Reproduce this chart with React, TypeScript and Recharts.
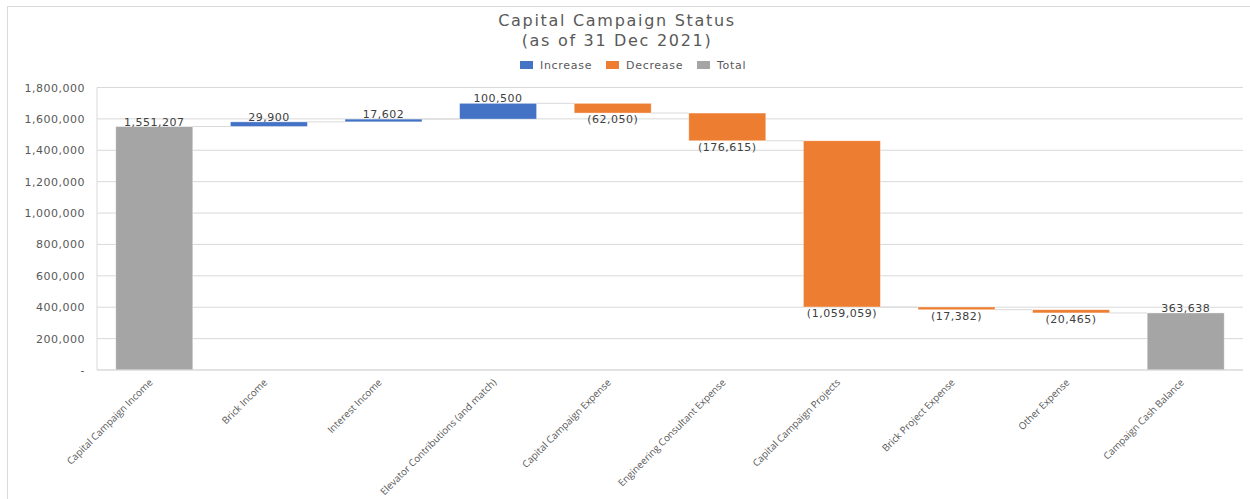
import React from "react";
import { BarChart, Bar, XAxis, YAxis, CartesianGrid, Cell, LabelList } from "recharts";

const categories = [
  "Capital Campaign Income",
  "Brick Income",
  "Interest Income",
  "Elevator Contributions (and match)",
  "Capital Campaign Expense",
  "Engineering Consultant Expense",
  "Capital Campaign Projects",
  "Brick Project Expense",
  "Other Expense",
  "Campaign Cash Balance",
];
const values = [1551207, 29900, 17602, 100500, -62050, -176615, -1059059, -17382, -20465, 363638];
const kinds = ["total", "inc", "inc", "inc", "dec", "dec", "dec", "dec", "dec", "total"];
const yTicks = [0, 200000, 400000, 600000, 800000, 1000000, 1200000, 1400000, 1600000, 1800000];

const COLORS: Record<string, string> = { inc: "#4472C4", dec: "#ED7D31", total: "#A5A5A5" };
const FONT = "'DejaVu Sans', sans-serif";

const data = (() => {
  let running = 0;
  return categories.map((name, i) => {
    const v = values[i];
    const kind = kinds[i];
    let base: number, delta: number, end: number;
    if (kind === "total") {
      base = 0;
      delta = v;
      end = v;
    } else if (v >= 0) {
      base = running;
      delta = v;
      end = running + v;
    } else {
      base = running + v;
      delta = -v;
      end = running + v;
    }
    running = end;
    return { name, base, delta, value: v, kind, idx: i };
  });
})();

const fmt = (n: number) => Math.abs(n).toLocaleString("en-US");

const BAND_RATIO = 1 - 2 * 0.164;

const WaterfallShape = (props: any) => {
  const { x, y, width, height, payload } = props;
  const kind = payload.kind;
  const idx = payload.idx;
  const band = width / BAND_RATIO;
  const endY = kind === "dec" ? y + height : y;
  return (
    <g>
      <rect x={x} y={y} width={width} height={Math.max(height, 0)} fill={COLORS[kind]} stroke="#ffffff" strokeOpacity={0.5} strokeWidth={0.75} />
      {idx < categories.length - 1 && (
        <line x1={x + width} x2={x + band} y1={endY} y2={endY} stroke="#D9D9D9" strokeWidth={1} />
      )}
    </g>
  );
};

const ValueLabel = (props: any) => {
  const { x, y, width, height, index } = props;
  const d = data[index];
  const cx = x + width / 2;
  if (d.kind === "dec") {
    return (
      <text x={cx} y={y + height + 10} textAnchor="middle" fontFamily={FONT} fontSize={11} letterSpacing={0.5} fill="#404040">
        ({fmt(d.value)})
      </text>
    );
  }
  return (
    <text x={cx} y={y - 1} textAnchor="middle" fontFamily={FONT} fontSize={11} letterSpacing={0.5} fill="#404040">
      {fmt(d.value)}
    </text>
  );
};

const XTick = (props: any) => {
  const { x, payload } = props;
  const ax = x - 1;
  const ay = 383;
  return (
    <text x={ax} y={ay} transform={`rotate(-45 ${ax} ${ay})`} textAnchor="end" fontFamily="'Open Sans', sans-serif" fontSize={9.8} fill="#595959">
      {payload.value}
    </text>
  );
};

const YTick = (props: any) => {
  const { x, y, payload } = props;
  const v = payload.value;
  return (
    <text x={x} y={y + 4} textAnchor="end" fontFamily={FONT} fontSize={11} letterSpacing={0.5} fill="#595959">
      {v === 0 ? "-" : v.toLocaleString("en-US")}
    </text>
  );
};

const legendItems = [
  { label: "Increase", color: COLORS.inc },
  { label: "Decrease", color: COLORS.dec },
  { label: "Total", color: COLORS.total },
];

export default function App() {
  return (
    <div style={{ position: "absolute", left: 0, top: 0, width: 1250, height: 499, background: "#fff", overflow: "hidden" }}>
      <div
        style={{
          position: "absolute",
          left: 7,
          top: 6,
          width: 1260,
          height: 520,
          border: "1px solid #D9D9D9",
          boxSizing: "border-box",
        }}
      />
      <svg width={1250} height={80} style={{ position: "absolute", left: 0, top: 0 }}>
        <text x={617} y={26} textAnchor="middle" fontFamily={FONT} fontSize={16} letterSpacing={1.7} fill="#595959">
          Capital Campaign Status
        </text>
        <text x={617} y={46} textAnchor="middle" fontFamily={FONT} fontSize={16} letterSpacing={1.7} fill="#595959">
          (as of 31 Dec 2021)
        </text>
        {(() => {
          const xs = [520, 606, 697];
          return legendItems.map((it, i) => (
            <g key={it.label}>
              <rect x={xs[i]} y={61} width={13} height={8} fill={it.color} />
              <text x={xs[i] + 20} y={69} fontFamily={FONT} fontSize={11} letterSpacing={0.7} fill="#595959">
                {it.label}
              </text>
            </g>
          ));
        })()}
      </svg>
      <div style={{ position: "absolute", left: 0, top: 0 }}>
        <BarChart
          width={1250}
          height={499}
          data={data}
          margin={{ top: 87.5, right: 7, bottom: 0, left: 7 }}
          barCategoryGap="16.4%"
        >
          <CartesianGrid vertical={false} stroke="#D9D9D9" strokeWidth={1} />
          <XAxis
            dataKey="name"
            interval={0}
            height={129}
            tickLine={false}
            axisLine={{ stroke: "#D9D9D9" }}
            tick={<XTick />}
          />
          <YAxis
            width={90}
            domain={[0, 1800000]}
            ticks={yTicks}
            interval={0}
            tickLine={false}
            axisLine={{ stroke: "#D9D9D9" }}
            tick={<YTick />}
            tickMargin={6}
          />
          <Bar dataKey="base" stackId="w" fill="transparent" isAnimationActive={false} />
          <Bar dataKey="delta" stackId="w" isAnimationActive={false} shape={<WaterfallShape />}>
            {data.map((d, i) => (
              <Cell key={i} fill={COLORS[d.kind]} />
            ))}
            <LabelList dataKey="delta" content={<ValueLabel />} />
          </Bar>
        </BarChart>
      </div>
    </div>
  );
}
